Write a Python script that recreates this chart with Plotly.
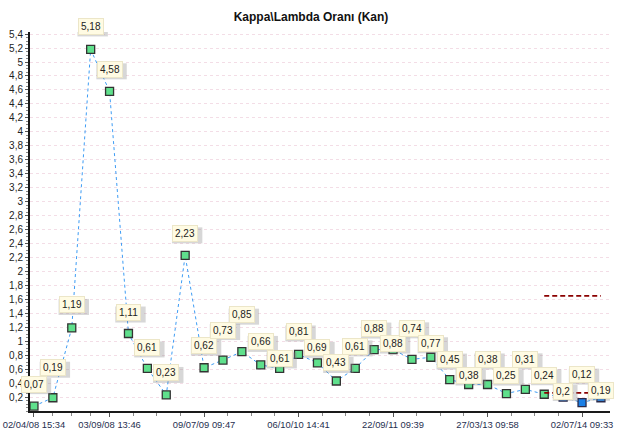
import plotly.graph_objects as go

# Kappa/Lambda oranı ölçümleri (sıra ile)
values = [0.07, 0.19, 1.19, 5.18, 4.58, 1.11, 0.61, 0.23, 2.23, 0.62,
          0.73, 0.85, 0.66, 0.61, 0.81, 0.69, 0.43, 0.61, 0.88, 0.88,
          0.74, 0.77, 0.45, 0.38, 0.38, 0.25, 0.31, 0.24, 0.2, 0.12, 0.19]
n_new = 3  # son 3 ölçüm farklı (mavi)

date_ticks = [0, 4, 9, 14, 19, 24, 29]
date_labels = ["02/04/08 15:34", "03/09/08 13:46", "09/07/09 09:47", "06/10/10 14:41",
               "22/09/11 09:39", "27/03/13 09:58", "02/07/14 09:33"]

ref_low = 0.26
ref_high = 1.65

y_ticks = [round(0.2 * k, 1) for k in range(1, 28)]

# etiketlerin noktaya göre yukarı kayması (px)
label_shift = [22, 30, 23, 23, 22, 21, 21, 22, 22, 22,
               30, 37, 23, 10, 23, 15, 18, 22, 21, 6,
               31, 14, 20, 9, 25, 18, 30, 19, 6, 28, 7]

idx = list(range(len(values)))
n_old = len(values) - n_new

fig = go.Figure()
fig.add_trace(go.Scatter(x=idx, y=values, mode='lines',
                         line=dict(color='#3d9cf5', width=1, dash='dot'),
                         showlegend=False, hoverinfo='skip'))
fig.add_trace(go.Scatter(x=idx[:n_old], y=values[:n_old], mode='markers',
                         marker=dict(symbol='square', size=8, color='#5fe08c',
                                     line=dict(color='#333333', width=1.3)),
                         showlegend=False))
fig.add_trace(go.Scatter(x=idx[n_old:], y=values[n_old:], mode='markers',
                         marker=dict(symbol='square', size=8, color='#1a7fe6',
                                     line=dict(color='#2a2a4a', width=1.3)),
                         showlegend=False))
for lim in (ref_low, ref_high):
    fig.add_trace(go.Scatter(x=[n_old - 1, len(values) - 1], y=[lim, lim], mode='lines',
                             line=dict(color='#8b0000', width=1.6, dash='5px,3px'),
                             showlegend=False, hoverinfo='skip'))

for i, v in enumerate(values):
    txt = f"{v:g}".replace(".", ",")
    w = len(txt) * 5.6 + 8
    sh = label_shift[i]
    # gölge
    fig.add_shape(type='rect', xref='x', yref='y', xsizemode='pixel', ysizemode='pixel',
                  xanchor=i, yanchor=v,
                  x0=-w / 2 + 2, x1=w / 2 + 2, y0=sh - 10, y1=sh + 6,
                  fillcolor='rgba(140,140,140,0.35)', line=dict(width=0), layer='above')
    fig.add_annotation(x=i, y=v, text=txt, showarrow=False, xref='x', yref='y',
                       yshift=sh,
                       font=dict(family='Liberation Sans', size=10, color='#222222'),
                       bgcolor='#fffbe3', bordercolor='#ece6c8', borderwidth=1, borderpad=2)

fig.update_layout(
    width=622, height=442,
    margin=dict(l=30, r=12, t=32, b=31),
    paper_bgcolor='white', plot_bgcolor='white',
    separators=',.',
    font=dict(family='Liberation Sans', size=10, color='#333333'),
    title=dict(text='<b>Kappa\\Lambda Oranı (Kan)</b>', x=0.5, xanchor='center',
               y=0.962, yanchor='middle', font=dict(size=12, color='#111111')),
)
fig.update_xaxes(range=[-0.21, 30.48], tickmode='array', tickvals=date_ticks, ticktext=date_labels,
                 automargin=False, ticklabeloverflow='allow',
                 showgrid=False, zeroline=False, showline=True, linecolor='#1a1a1a', linewidth=2,
                 ticks='outside', ticklen=4, tickcolor='#555555',
                 tickfont=dict(color='#1f2f50', size=9.4),
                 minor=dict(tickvals=[1, 2, 3] + [4 + 1.25 * k for k in range(21) if k % 4],
                            ticks='outside', ticklen=3, tickcolor='#888888'))
fig.update_yaxes(range=[0, 5.43], tickmode='array', tickvals=y_ticks,
                 automargin=False,
                 showgrid=True, gridcolor='#f3dde6', griddash='dot', gridwidth=1,
                 zeroline=False, showline=True, linecolor='#1a1a1a', linewidth=2,
                 ticks='outside', ticklen=3, tickcolor='#555555',
                 tickfont=dict(color='#222222', size=10),
                 minor=dict(dtick=0.05, tick0=0, ticks='outside', ticklen=2, tickcolor='#888888'))

# sayfanın varsayılan 8px kenar boşluğunu kaldır
fig.write_html("out.html", config={'displayModeBar': False},
               post_script="document.body.style.margin='0px';")
